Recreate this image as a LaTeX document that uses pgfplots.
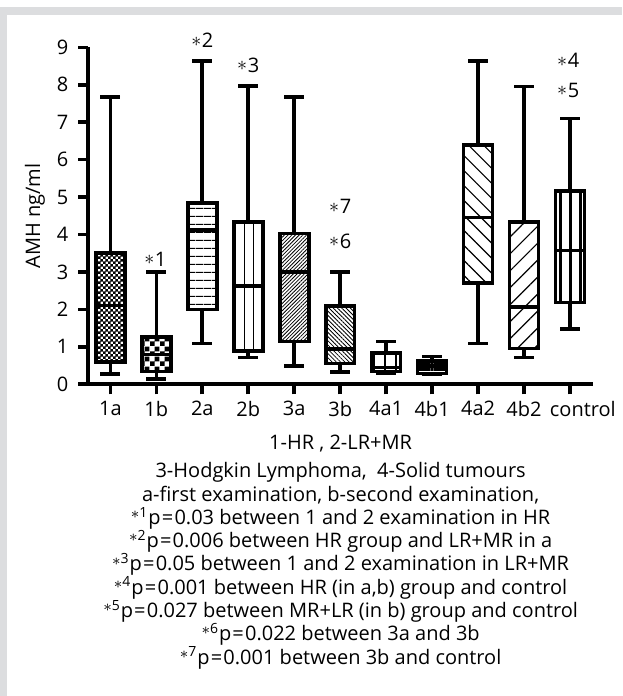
\documentclass[border=0pt]{standalone}
\usepackage{fontspec}
\setmainfont{Open Sans}
\usepackage{pgfplots}
\pgfplotsset{compat=1.18}
\usepgfplotslibrary{statistics}
\usetikzlibrary{patterns,patterns.meta}
\definecolor{framegray}{RGB}{220,221,223}

\pgfdeclarepatternformonly{finechecker}{\pgfqpoint{0pt}{0pt}}{\pgfqpoint{2.6pt}{2.6pt}}{\pgfqpoint{2.6pt}{2.6pt}}{%
 \pgfpathrectangle{\pgfqpoint{0pt}{0pt}}{\pgfqpoint{1.5pt}{1.5pt}}%
 \pgfpathrectangle{\pgfqpoint{1.3pt}{1.3pt}}{\pgfqpoint{1.5pt}{1.5pt}}%
 \pgfusepath{fill}}
\pgfdeclarepatternformonly{coarsechecker}{\pgfqpoint{0pt}{0pt}}{\pgfqpoint{5pt}{5pt}}{\pgfqpoint{5pt}{5pt}}{%
 \pgfpathrectangle{\pgfqpoint{0pt}{0pt}}{\pgfqpoint{2.5pt}{2.5pt}}%
 \pgfpathrectangle{\pgfqpoint{2.5pt}{2.5pt}}{\pgfqpoint{2.5pt}{2.5pt}}%
 \pgfusepath{fill}}

\newcommand\sig[1]{\raisebox{0.55ex}{\footnotesize$\ast$}\textsuperscript{#1}}
\newcommand\pe{p\kern0.6pt=\kern0.6pt}
\newcommand\st[1]{\raisebox{0.6pt}{$\ast$}\kern0.3pt#1}

\begin{document}
\fontsize{10pt}{12pt}\selectfont
\begin{tikzpicture}[txt/.style={anchor=base, inner sep=0pt}]
\useasboundingbox (-44.15pt,-155.85pt) rectangle (266.85pt,192.15pt);
\fill[white] (-44.15pt,-155.85pt) rectangle (266.85pt,192.15pt);
\fill[framegray] (-44.15pt,184.65pt) rectangle (266.85pt,188.65pt);
\fill[framegray] (-44.15pt,-155.85pt) rectangle (-40.65pt,188.65pt);
\begin{axis}[
  at={(0pt,0pt)}, anchor=south west,
  scale only axis, width=252.35pt, height=168.5pt,
  xmin=-0.48, xmax=10.5, ymin=0, ymax=9,
  axis x line*=bottom, axis y line*=left,
  axis line style={line width=1.8pt, black},
  major tick style={line width=1.8pt, black},
  tick align=outside, major tick length=5pt,
  xtick={0,...,10},
  xticklabels={1a,1b,2a,2b,3a,3b,4a1,4b1,4a2,4b2,\hspace*{12.8pt}control},
  ytick={0,...,9},
  yticklabel style={xshift=-1.5pt},
  clip=false,
  boxplot/draw direction=y,
  boxplot/box extend=0.63, boxplot/whisker extend=0.43,
  /pgf/number format/assume math mode=true,
]
\addplot[boxplot prepared={draw position=0, lower whisker=0.27, lower quartile=0.60, median=2.1, upper quartile=3.50, upper whisker=7.68}, draw=black, line width=1.8pt, pattern=finechecker] coordinates {};
\addplot[boxplot prepared={draw position=1, lower whisker=0.14, lower quartile=0.34, median=0.80, upper quartile=1.27, upper whisker=3.0}, draw=black, line width=1.8pt, pattern=coarsechecker] coordinates {};
\addplot[boxplot prepared={draw position=2, lower whisker=1.09, lower quartile=2.0, median=4.12, upper quartile=4.85, upper whisker=8.63}, draw=black, line width=1.8pt, pattern={Lines[angle=0, distance=4pt, line width=0.5pt]}] coordinates {};
\addplot[boxplot prepared={draw position=3, lower whisker=0.72, lower quartile=0.89, median=2.62, upper quartile=4.34, upper whisker=7.97}, draw=black, line width=1.8pt, pattern={Lines[angle=90, distance=4.7pt, line width=0.5pt]}] coordinates {};
\addplot[boxplot prepared={draw position=4, lower whisker=0.49, lower quartile=1.14, median=3.0, upper quartile=4.03, upper whisker=7.68}, draw=black, line width=1.8pt, pattern={Lines[angle=45, distance=1.3pt, line width=0.4pt]}] coordinates {};
\addplot[boxplot prepared={draw position=5, lower whisker=0.33, lower quartile=0.56, median=0.95, upper quartile=2.09, upper whisker=3.0}, draw=black, line width=1.8pt, pattern={Lines[angle=-45, distance=1.5pt, line width=0.4pt]}] coordinates {};
\addplot[boxplot prepared={draw position=6, lower whisker=0.29, lower quartile=0.34, median=0.45, upper quartile=0.84, upper whisker=1.14}, draw=black, line width=1.8pt, pattern={Lines[angle=90, distance=5.5pt, line width=1pt]}] coordinates {};
\addplot[boxplot prepared={draw position=7, lower whisker=0.28, lower quartile=0.29, median=0.49, upper quartile=0.62, upper whisker=0.74}, draw=black, line width=1.8pt, pattern={Lines[angle=0, distance=1.6pt, line width=1.1pt]}] coordinates {};
\addplot[boxplot prepared={draw position=8, lower whisker=1.09, lower quartile=2.71, median=4.46, upper quartile=6.39, upper whisker=8.63}, draw=black, line width=1.8pt, pattern={Lines[angle=-45, distance=5.3pt, line width=0.6pt]}] coordinates {};
\addplot[boxplot prepared={draw position=9, lower whisker=0.72, lower quartile=0.96, median=2.07, upper quartile=4.33, upper whisker=7.95}, draw=black, line width=1.8pt, pattern={Lines[angle=45, distance=6pt, line width=0.6pt]}] coordinates {};
\addplot[boxplot prepared={draw position=10, lower whisker=1.48, lower quartile=2.18, median=3.57, upper quartile=5.17, upper whisker=7.10}, draw=black, line width=1.8pt, pattern={Lines[angle=90, distance=5pt, line width=1.5pt]}] coordinates {};
\node at (axis cs:2,9.19) {\st{2}};
\node at (axis cs:3,8.53) {\st{3}};
\node at (axis cs:0.98,3.35) {\st{1}};
\node at (axis cs:5,4.74) {\st{7}};
\node at (axis cs:5,3.83) {\st{6}};
\node at (axis cs:9.96,8.66) {\st{4}};
\node at (axis cs:9.96,7.86) {\st{5}};
\end{axis}
\node[rotate=90] at (-26.65pt,84.25pt) {AMH ng/ml};
\node[txt] at (126.15pt,-32.35pt) {1-HR , 2-LR+MR};
\node[txt] at (126.15pt,-46.7pt) {3-Hodgkin Lymphoma,\ \ 4-Solid tumours};
\node[txt] at (126.15pt,-58.35pt) {a-first examination, b-second examination,};
\node[txt] at (126.15pt,-70.0pt) {\sig{1}\pe0.03 between 1 and 2 examination in HR};
\node[txt] at (126.15pt,-81.65pt) {\sig{2}\pe0.006 between HR group and LR+MR in a};
\node[txt] at (126.15pt,-93.3pt) {\sig{3}\pe0.05 between 1 and 2 examination in LR+MR};
\node[txt] at (126.15pt,-104.95pt) {\sig{4}\pe0.001 between HR (in a,b) group and control};
\node[txt] at (126.15pt,-116.6pt) {\sig{5}\pe0.027 between MR+LR (in b) group and control};
\node[txt] at (126.15pt,-128.25pt) {\sig{6}\pe0.022 between 3a and 3b};
\node[txt] at (126.15pt,-139.9pt) {\sig{7}\pe0.001 between 3b and control};
\end{tikzpicture}
\end{document}
